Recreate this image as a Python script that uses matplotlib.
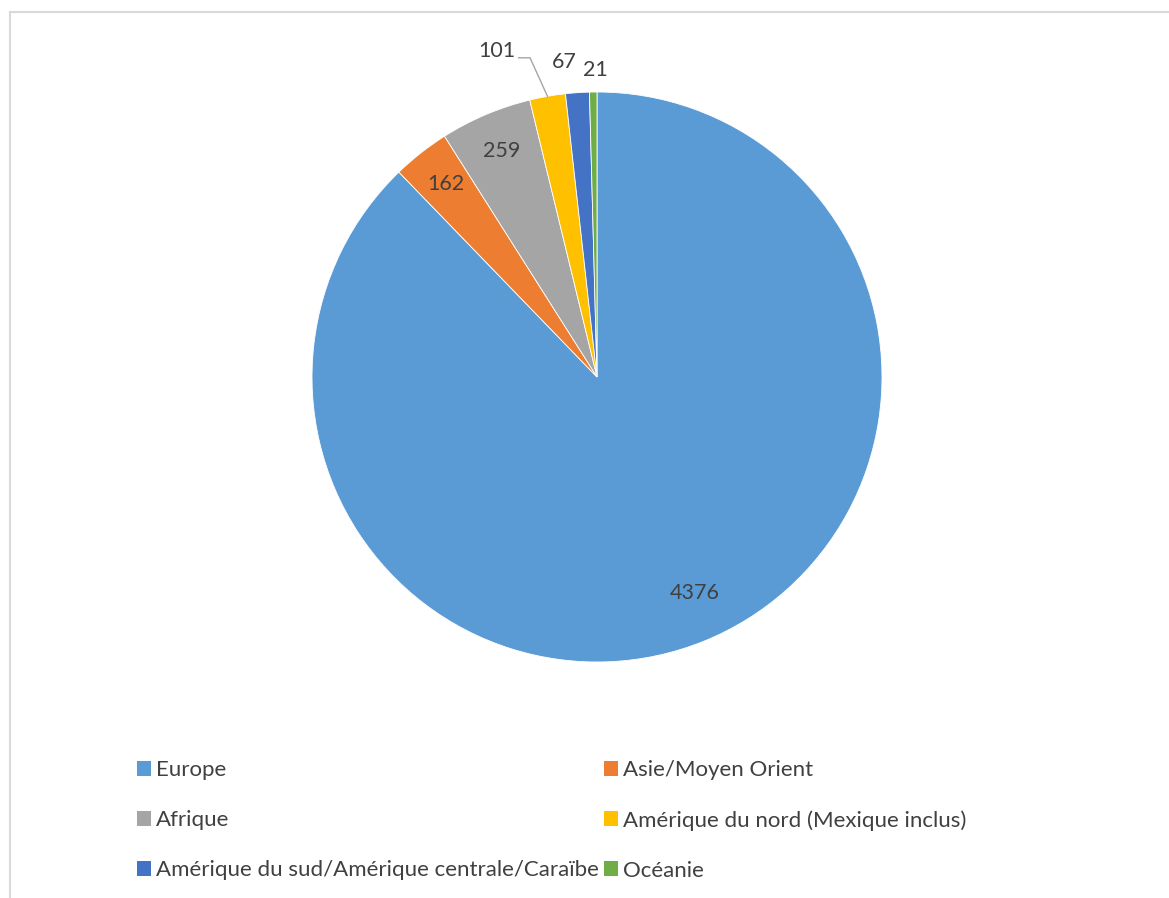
import numpy as np
import matplotlib
matplotlib.use('Agg')
import matplotlib.pyplot as plt
from matplotlib.lines import Line2D
from matplotlib.patches import Patch

regions = ['Europe', 'Asie/Moyen Orient', 'Afrique', 'Amérique du nord (Mexique inclus)',
           'Amérique du sud/Amérique centrale/Caraïbe', 'Océanie']
counts = [4376, 162, 259, 101, 67, 21]
colors = ['#5B9BD5', '#ED7D31', '#A5A5A5', '#FFC000', '#4472C4', '#70AD47']

plt.rcParams['font.family'] = ['Lato', 'DejaVu Sans']
text_color = '#404040'

W, H = 1169, 898
fig = plt.figure(figsize=(W / 100, H / 100), dpi=100)
fig.patch.set_facecolor('white')

# chart area border (top and left only are visible)
border = '#D9D9D9'
fig.add_artist(Line2D([10 / W, 1], [1 - 12 / H, 1 - 12 / H], transform=fig.transFigure, color=border, lw=1.5))
fig.add_artist(Line2D([10 / W, 10 / W], [0, 1 - 12 / H], transform=fig.transFigure, color=border, lw=1.5))

# pie axes: centre (597, 377), radius 285 px
cx, cy, r = 597, 377, 285
ax = fig.add_axes([(cx - r) / W, (H - cy - r) / H, 2 * r / W, 2 * r / H])

wedges, _ = ax.pie(counts, colors=colors, startangle=90, counterclock=False, radius=1,
                   wedgeprops=dict(edgecolor='white', linewidth=0.6))
ax.set_xlim(-1, 1)
ax.set_ylim(-1, 1)
ax.set_aspect('equal')
ax.axis('off')

lab_size = 15.5

# data labels inside the big slices
dists = [0.83, 0.86, 0.86]
for i, (w, v) in enumerate(zip(wedges, counts)):
    mid = np.deg2rad((w.theta1 + w.theta2) / 2)
    if i < 3:
        d = dists[i]
        ax.text(d * np.cos(mid + (0.04 if i == 0 else 0)), d * np.sin(mid + (0.04 if i == 0 else 0)),
                str(v), ha='center', va='center', fontsize=lab_size, color=text_color)

# small slices: labels outside
mids = [np.deg2rad((w.theta1 + w.theta2) / 2) for w in wedges]
# 101 with leader line
ex, ey = np.cos(mids[3]), np.sin(mids[3])
ax.plot([ex, -0.235, -0.275], [ey, 1.12, 1.12], color='#A5A5A5', lw=1, clip_on=False)
ax.text(-0.285, 1.145, str(counts[3]), ha='right', va='center', fontsize=lab_size, color=text_color)
ax.text(-0.115, 1.105, str(counts[4]), ha='center', va='center', fontsize=lab_size, color=text_color)
ax.text(-0.005, 1.077, str(counts[5]), ha='center', va='center', fontsize=lab_size, color=text_color)

# legend, filled row by row
order = [0, 2, 4, 1, 3, 5]
handles = [Patch(facecolor=colors[i], edgecolor='none') for i in order]
labels = [regions[i] for i in order]
fig.legend(handles, labels, ncol=2, loc='upper left', bbox_to_anchor=(137 / W, 1 - 760 / H),
           frameon=False, fontsize=16, labelcolor=text_color,
           handlelength=0.65, handleheight=0.65, handletextpad=0.22,
           columnspacing=0.2, labelspacing=1.35, borderpad=0, borderaxespad=0)

fig.savefig('out.png', dpi=100)
